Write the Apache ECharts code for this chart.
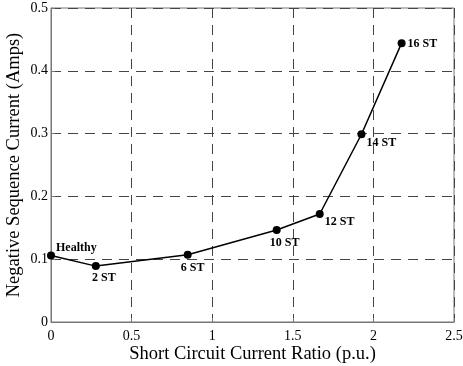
<!DOCTYPE html>
<html>
<head>
<meta charset="utf-8">
<script src="https://cdn.jsdelivr.net/npm/echarts@6/dist/echarts.min.js"></script>
<style>
  html, body { margin: 0; padding: 0; background: #fff; }
  #chart { width: 463px; height: 366px; }
</style>
</head>
<body>
<div id="chart"></div>
<script>
// values
const ratio = [0, 0.278, 0.848, 1.40, 1.667, 1.926, 2.175];
const current = [0.106, 0.089, 0.107, 0.1465, 0.172, 0.299, 0.444];
const pointNames = ['Healthy', '2 ST', '6 ST', '10 ST', '12 ST', '14 ST', '16 ST'];

// where each label sits relative to its point
const labelPos = [
  { position: 'right', distance: 1, offset: [0, -8] },
  { position: 'bottom', offset: [8, -3] },
  { position: 'bottom', offset: [5, -2] },
  { position: 'bottom', offset: [8, -2] },
  { position: 'right', distance: 1, offset: [0, 8] },
  { position: 'right', distance: 1, offset: [0, 9] },
  { position: 'right', distance: 2, offset: [0, 1] }
];

const font = 'Liberation Serif';
const chart = echarts.init(document.getElementById('chart'));

const seriesData = ratio.map((x, i) => ({
  value: [x, current[i]],
  label: Object.assign({ show: true, formatter: pointNames[i] }, labelPos[i])
}));

const dashed = { show: true, lineStyle: { color: '#444', type: [10, 7], width: 1 } };

chart.setOption({
  animation: false,
  grid: {
    left: 51, right: 9, top: 8, bottom: 44,
    outerBoundsMode: 'none', containLabel: false,
    show: true, borderColor: '#777', borderWidth: 1
  },
  xAxis: {
    type: 'value',
    min: 0, max: 2.5, interval: 0.5,
    name: 'Short Circuit Current Ratio (p.u.)',
    nameLocation: 'middle', nameGap: 23, nameMoveOverlap: false,
    nameTextStyle: { fontFamily: font, fontSize: 18.5, color: '#000' },
    axisLine: { show: true, onZero: false, lineStyle: { color: '#777' } },
    axisTick: { show: true, inside: true, length: 4, lineStyle: { color: '#777' } },
    axisLabel: { fontFamily: font, fontSize: 14, color: '#000', margin: 7 },
    splitLine: dashed
  },
  yAxis: {
    type: 'value',
    min: 0, max: 0.5, interval: 0.1,
    name: 'Negative Sequence Current (Amps)',
    nameLocation: 'middle', nameGap: 27, nameMoveOverlap: false,
    nameTextStyle: { fontFamily: font, fontSize: 18.5, color: '#000' },
    axisLine: { show: true, lineStyle: { color: '#777' } },
    axisTick: { show: true, inside: true, length: 4, lineStyle: { color: '#777' } },
    axisLabel: { fontFamily: font, fontSize: 14, color: '#000', margin: 3 },
    splitLine: dashed
  },
  series: [{
    type: 'line',
    data: seriesData,
    symbol: 'circle',
    symbolSize: 8,
    itemStyle: { color: '#000' },
    lineStyle: { color: '#000', width: 1.5 },
    label: { fontFamily: font, fontSize: 12, fontWeight: 'bold', color: '#000' }
  }]
});
</script>
</body>
</html>
